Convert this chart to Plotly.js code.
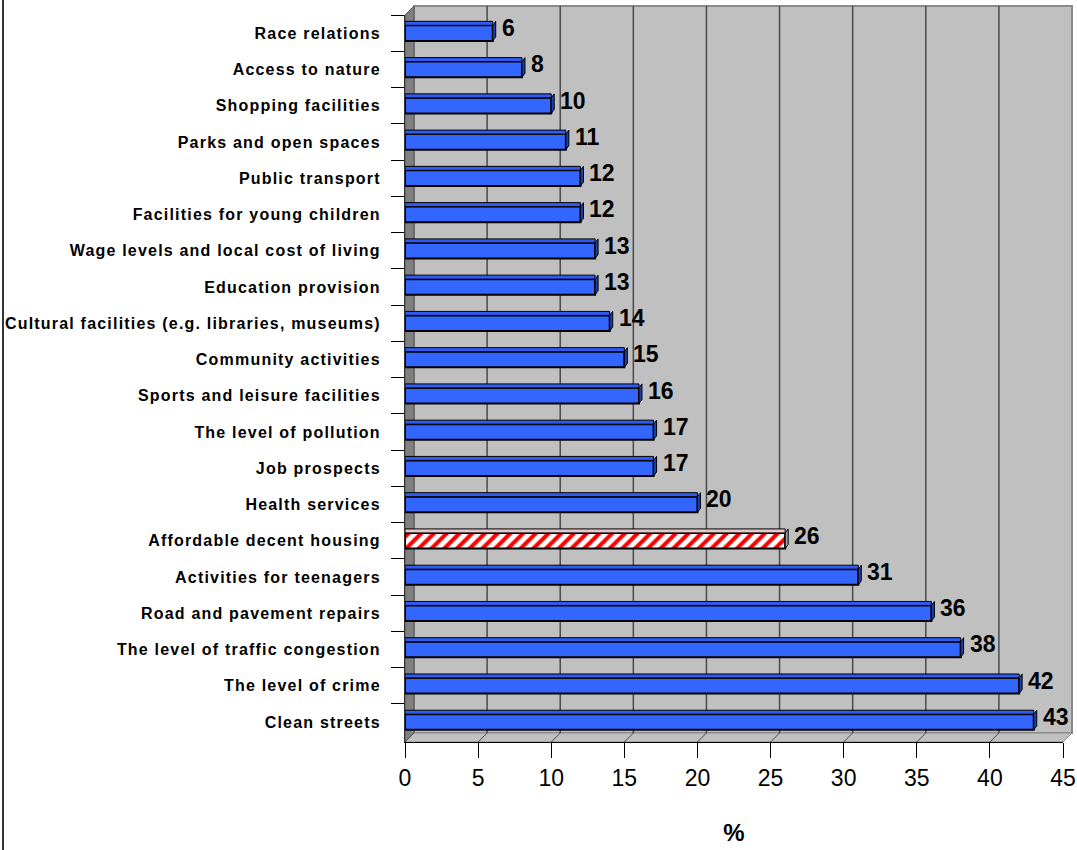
<!DOCTYPE html>
<html>
<head>
<meta charset="utf-8">
<script src="https://cdn.plot.ly/plotly-3.0.1.min.js"></script>
<style>
  html, body { margin: 0; padding: 0; background: #ffffff; }
  #chart { width: 1077px; height: 850px; }
  .yaxislayer-above .ytick text { letter-spacing: 1.2px; }
</style>
</head>
<body>
<div id="chart"></div>
<script>
// ---- data (top to bottom as in the chart) ----
const categories = [
  "Race relations",
  "Access to nature",
  "Shopping facilities",
  "Parks and open spaces",
  "Public transport",
  "Facilities for young children",
  "Wage levels and local cost of living",
  "Education provision",
  "Cultural facilities (e.g. libraries, museums)",
  "Community activities",
  "Sports and leisure facilities",
  "The level of pollution",
  "Job prospects",
  "Health services",
  "Affordable decent housing",
  "Activities for teenagers",
  "Road and pavement repairs",
  "The level of traffic congestion",
  "The level of crime",
  "Clean streets"
];
const values = [6, 8, 10, 11, 12, 12, 13, 13, 14, 15, 16, 17, 17, 20, 26, 31, 36, 38, 42, 43];
const highlighted = "Affordable decent housing";
const xTickVals = [0, 5, 10, 15, 20, 25, 30, 35, 40, 45];
const xTitle = "%";

// ---- styling ----
const W = 1077, H = 850;
const M = { l: 405, r: 14, t: 15, b: 108, pad: 0 };
const plotW = W - M.l - M.r, plotH = H - M.t - M.b;
const DEPTH = 9;                       // px depth of the 3D walls
const dxp = DEPTH / plotW, dyp = DEPTH / plotH;
const BAR_W = 0.43;                    // bar thickness in category units
const BAR_D = 0.11;                    // bar top-face depth in category units
const BLUE = "#3366ff", BLUE_TOP = "#2f5cf0", BLUE_SIDE = "#1f3fa8";
const WALL = "#c0c0c0", SIDEWALL = "#808080", GRID = "#4a4a4a";
const FONT = "'Liberation Sans', Arial, sans-serif";

const isHi = categories.map(c => c === highlighted);
const mainValues = values.map((v, i) => isHi[i] ? null : v);
const hiValues = values.map((v, i) => isHi[i] ? v : null);

const shapes = [];
// back wall
shapes.push({ type: "rect", xref: "paper", yref: "paper", layer: "below",
  x0: dxp, x1: 1 + dxp, y0: dyp, y1: 1 + dyp,
  fillcolor: WALL, line: { color: "#8a8a8a", width: 2 } });
// left side wall
shapes.push({ type: "path", xref: "paper", yref: "paper", layer: "below",
  path: `M0,0 L0,1 L${dxp},${1 + dyp} L${dxp},${dyp} Z`,
  fillcolor: SIDEWALL, line: { color: "#555555", width: 1 } });
// floor
shapes.push({ type: "path", xref: "paper", yref: "paper", layer: "below",
  path: `M0,0 L1,0 L${1 + dxp},${dyp} L${dxp},${dyp} Z`,
  fillcolor: WALL, line: { color: "#8a8a8a", width: 1 } });
// gridlines on the back wall and their floor diagonals
xTickVals.forEach(t => {
  if (t > 0) {
    shapes.push({ type: "line", xref: "x", yref: "paper", layer: "below",
      xsizemode: "pixel", xanchor: t, x0: DEPTH, x1: DEPTH, y0: dyp, y1: 1 + dyp,
      line: { color: GRID, width: 1.5 } });
  }
  shapes.push({ type: "line", xref: "x", yref: "paper", layer: "below",
    xsizemode: "pixel", xanchor: t, x0: 0, x1: DEPTH,
    ysizemode: "pixel", yanchor: 0, y0: 0, y1: DEPTH,
    line: { color: GRID, width: 1 } });
});
// left border line of the chart area
shapes.push({ type: "line", xref: "paper", yref: "paper", layer: "above",
  x0: (3 - M.l) / plotW, x1: (3 - M.l) / plotW, y0: -M.b / plotH, y1: 1 + M.t / plotH,
  line: { color: "#333333", width: 2 } });

// 3D faces of the bars
values.forEach((v, i) => {
  const top = i - BAR_W / 2, bot = i + BAR_W / 2;
  shapes.push({ type: "rect", xref: "x", yref: "y", layer: "above",
    x0: 0, x1: v, y0: top - BAR_D, y1: top,
    fillcolor: isHi[i] ? "#e6c8c8" : BLUE_TOP, line: { color: "#000000", width: 1 } });
  shapes.push({ type: "path", xref: "x", yref: "y", layer: "above",
    xsizemode: "pixel", xanchor: v,
    path: `M0,${top} L3,${top - BAR_D} L3,${bot - BAR_D} L0,${bot} Z`,
    fillcolor: isHi[i] ? "#a0a0a0" : BLUE_SIDE, line: { color: "#000000", width: 1 } });
});

// value labels
const annotations = values.map((v, i) => ({
  x: v, y: categories[i], xref: "x", yref: "y",
  text: String(v), showarrow: false, xanchor: "left", yanchor: "middle",
  xshift: 7, yshift: 5,
  font: { family: FONT, size: 23, color: "#000000", weight: "bold" }
}));

const mainTrace = {
  type: "bar", orientation: "h",
  x: mainValues, y: categories,
  width: BAR_W,
  marker: { color: BLUE, line: { color: "#000000", width: 2 } },
  hoverinfo: "x+y"
};
const hiTrace = {
  type: "bar", orientation: "h",
  x: hiValues, y: categories,
  width: BAR_W,
  marker: {
    color: "#ff0000",
    line: { color: "#000000", width: 2 },
    pattern: { shape: "/", fillmode: "replace", fgcolor: "#ff0000", bgcolor: "#ffffff", size: 9, solidity: 0.45 }
  },
  hoverinfo: "x+y"
};

const layout = {
  width: W, height: H,
  margin: M,
  barmode: "overlay",
  paper_bgcolor: "#ffffff",
  plot_bgcolor: "rgba(0,0,0,0)",
  showlegend: false,
  xaxis: {
    range: [0, 45], tickvals: xTickVals, ticktext: xTickVals.map(String),
    showgrid: false, zeroline: false,
    showline: true, linecolor: "#000000", linewidth: 1,
    ticks: "outside", ticklen: 15, tickwidth: 1, tickcolor: "#000000",
    tickfont: { family: FONT, size: 23, color: "#000000" },
    title: { text: xTitle, standoff: 34, font: { family: FONT, size: 24, color: "#000000", weight: "bold" } }
  },
  yaxis: {
    type: "category", autorange: "reversed",
    categoryorder: "array", categoryarray: categories,
    showgrid: false, zeroline: false,
    showline: true, linecolor: "#333333", linewidth: 1,
    ticks: "outside", tickson: "boundaries", ticklen: 13, tickwidth: 1, tickcolor: "#000000",
    ticklabelstandoff: 20,
    tickfont: { family: FONT, size: 16, color: "#000000", weight: "bold" }
  },
  shapes: shapes,
  annotations: annotations
};

Plotly.newPlot("chart", [mainTrace, hiTrace], layout, { displayModeBar: false, staticPlot: true });
</script>
</body>
</html>
